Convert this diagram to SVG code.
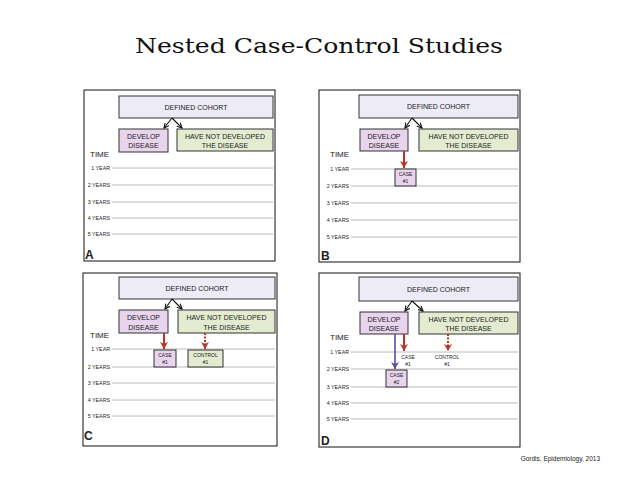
<svg xmlns="http://www.w3.org/2000/svg" width="638" height="479" viewBox="0 0 638 479">
<style>
.panel{fill:#fff;stroke:#111;stroke-width:1}
.coh{fill:#ecebf6;stroke:#333;stroke-width:1}
.dev{fill:#e8d4ec;stroke:#333;stroke-width:1}
.nd{fill:#e3ecd1;stroke:#333;stroke-width:1}
.t{font-family:"Liberation Sans",Arial,sans-serif;fill:#222}
.bx{font-size:7px;text-anchor:middle}
.time{font-size:8px}
.yr{font-size:5.3px;text-anchor:end}
.sm{font-size:5px;text-anchor:middle}
.let{font-size:12px;font-weight:bold}
.grid{stroke:#a8a8a8;stroke-width:0.8}
.blk{stroke:#111;stroke-width:1.1;fill:none}
.red{stroke:#b8352a;stroke-width:2;fill:none}
.redd{stroke:#b8352a;stroke-width:2;fill:none;stroke-dasharray:2 1.5}
.pur{stroke:#5a4aa0;stroke-width:1.6;fill:none}
</style>
<defs>
<marker id="mb" markerUnits="userSpaceOnUse" markerWidth="6" markerHeight="6" refX="5" refY="3" orient="auto"><path d="M0,0.5 L5,3 L0,5.5" fill="none" stroke="#111" stroke-width="1.1"/></marker>
<marker id="mr" markerUnits="userSpaceOnUse" markerWidth="8" markerHeight="8" refX="7" refY="4" orient="auto"><path d="M0,0 L7,4 L0,8 L2,4 z" fill="#b8352a"/></marker>
<marker id="mp" markerUnits="userSpaceOnUse" markerWidth="8" markerHeight="8" refX="7" refY="4" orient="auto"><path d="M0,0 L7,4 L0,8 L2,4 z" fill="#5a4aa0"/></marker>
</defs>
<rect width="638" height="479" fill="#fff"/>
<text x="319" y="53" text-anchor="middle" font-family="DejaVu Serif,'Liberation Serif',serif" font-size="21" fill="#111" textLength="368" lengthAdjust="spacingAndGlyphs">Nested Case-Control Studies</text>
<text x="600" y="461" text-anchor="end" class="t" font-size="6.5" fill="#555">Gordis, Epidemiology, 2013</text>

<!-- Panel A -->
<g id="panelA">
<rect class="panel" x="84" y="90" width="191" height="171"/>
<g id="A-years">
<line class="grid" x1="112" y1="168" x2="273" y2="168"/><text class="t yr" x="110" y="170">1 YEAR</text>
<line class="grid" x1="112" y1="185" x2="273" y2="185"/><text class="t yr" x="110" y="187">2 YEARS</text>
<line class="grid" x1="112" y1="202" x2="273" y2="202"/><text class="t yr" x="110" y="204">3 YEARS</text>
<line class="grid" x1="112" y1="218" x2="273" y2="218"/><text class="t yr" x="110" y="220">4 YEARS</text>
<line class="grid" x1="112" y1="234" x2="273" y2="234"/><text class="t yr" x="110" y="236">5 YEARS</text>
</g>
<text class="t time" x="90" y="157">TIME</text>
<text class="t let" x="85" y="259">A</text>
</g>
<g id="A-cohort"><rect class="coh" x="119" y="96" width="154" height="22"/><text class="t bx" x="196" y="109.5">DEFINED COHORT</text></g>
<g id="A-develop"><rect class="dev" x="119" y="129" width="49" height="23"/><text class="t bx" x="143.5" y="139">DEVELOP</text><text class="t bx" x="143.5" y="148">DISEASE</text></g>
<g id="A-notdev"><rect class="nd" x="177" y="129" width="96" height="22"/><text class="t bx" x="225" y="139">HAVE NOT DEVELOPED</text><text class="t bx" x="225" y="148">THE DISEASE</text></g>

<!-- Panel B -->
<g id="panelB">
<rect class="panel" x="319" y="90" width="201" height="172"/>
<g id="B-years">
<line class="grid" x1="351" y1="169" x2="518" y2="169"/><text class="t yr" x="349" y="171">1 YEAR</text>
<line class="grid" x1="351" y1="186" x2="518" y2="186"/><text class="t yr" x="349" y="188">2 YEARS</text>
<line class="grid" x1="351" y1="203" x2="518" y2="203"/><text class="t yr" x="349" y="205">3 YEARS</text>
<line class="grid" x1="351" y1="220" x2="518" y2="220"/><text class="t yr" x="349" y="222">4 YEARS</text>
<line class="grid" x1="351" y1="237" x2="518" y2="237"/><text class="t yr" x="349" y="239">5 YEARS</text>
</g>
<text class="t time" x="330" y="157">TIME</text>
<text class="t let" x="321" y="260">B</text>
</g>
<g id="B-cohort"><rect class="coh" x="359" y="95" width="159" height="23"/><text class="t bx" x="438.5" y="109">DEFINED COHORT</text></g>
<g id="B-develop"><rect class="dev" x="360" y="129" width="48" height="22"/><text class="t bx" x="384" y="139">DEVELOP</text><text class="t bx" x="384" y="148">DISEASE</text></g>
<g id="B-notdev"><rect class="nd" x="419" y="129" width="99" height="22"/><text class="t bx" x="468.5" y="139">HAVE NOT DEVELOPED</text><text class="t bx" x="468.5" y="148">THE DISEASE</text></g>
<g id="B-case1"><rect class="dev" x="395" y="169" width="21" height="17"/><text class="t sm" x="405.5" y="176">CASE</text><text class="t sm" x="405.5" y="183">#1</text></g>

<!-- Panel C -->
<g id="panelC">
<rect class="panel" x="83" y="273" width="194" height="173"/>
<g id="C-years">
<line class="grid" x1="112" y1="349" x2="275" y2="349"/><text class="t yr" x="110" y="351">1 YEAR</text>
<line class="grid" x1="112" y1="367" x2="275" y2="367"/><text class="t yr" x="110" y="369">2 YEARS</text>
<line class="grid" x1="112" y1="383" x2="275" y2="383"/><text class="t yr" x="110" y="385">3 YEARS</text>
<line class="grid" x1="112" y1="400" x2="275" y2="400"/><text class="t yr" x="110" y="402">4 YEARS</text>
<line class="grid" x1="112" y1="416" x2="275" y2="416"/><text class="t yr" x="110" y="418">5 YEARS</text>
</g>
<text class="t time" x="90" y="338">TIME</text>
<text class="t let" x="84" y="440">C</text>
</g>
<g id="C-cohort"><rect class="coh" x="119" y="277" width="156" height="22"/><text class="t bx" x="197" y="290.5">DEFINED COHORT</text></g>
<g id="C-develop"><rect class="dev" x="119" y="310" width="49" height="23"/><text class="t bx" x="143.5" y="320">DEVELOP</text><text class="t bx" x="143.5" y="329.5">DISEASE</text></g>
<g id="C-notdev"><rect class="nd" x="178" y="310" width="97" height="23"/><text class="t bx" x="226.5" y="320">HAVE NOT DEVELOPED</text><text class="t bx" x="226.5" y="329.5">THE DISEASE</text></g>
<g id="C-case1"><rect class="dev" x="154" y="350" width="22" height="17"/><text class="t sm" x="165" y="357">CASE</text><text class="t sm" x="165" y="364">#1</text></g>
<g id="C-control1"><rect class="nd" x="188" y="350" width="35" height="17"/><text class="t sm" x="205.5" y="357">CONTROL</text><text class="t sm" x="205.5" y="364">#1</text></g>

<!-- Panel D -->
<g id="panelD">
<rect class="panel" x="319" y="273" width="201" height="174"/>
<g id="D-years">
<line class="grid" x1="351" y1="352" x2="518" y2="352"/><text class="t yr" x="349" y="354">1 YEAR</text>
<line class="grid" x1="351" y1="369" x2="518" y2="369"/><text class="t yr" x="349" y="371">2 YEARS</text>
<line class="grid" x1="351" y1="387" x2="518" y2="387"/><text class="t yr" x="349" y="389">3 YEARS</text>
<line class="grid" x1="351" y1="403" x2="518" y2="403"/><text class="t yr" x="349" y="405">4 YEARS</text>
<line class="grid" x1="351" y1="419" x2="518" y2="419"/><text class="t yr" x="349" y="421">5 YEARS</text>
</g>
<text class="t time" x="330" y="340">TIME</text>
<text class="t let" x="321" y="445">D</text>
</g>
<g id="D-cohort"><rect class="coh" x="359" y="277" width="159" height="24"/><text class="t bx" x="438.5" y="291.5">DEFINED COHORT</text></g>
<g id="D-develop"><rect class="dev" x="360" y="312" width="48" height="22"/><text class="t bx" x="384" y="322">DEVELOP</text><text class="t bx" x="384" y="331">DISEASE</text></g>
<g id="D-notdev"><rect class="nd" x="419" y="312" width="99" height="22"/><text class="t bx" x="468.5" y="322">HAVE NOT DEVELOPED</text><text class="t bx" x="468.5" y="331">THE DISEASE</text></g>
<g id="D-case1"><text class="t sm" x="408" y="359">CASE</text><text class="t sm" x="408" y="366">#1</text></g>
<g id="D-control1"><text class="t sm" x="447" y="359">CONTROL</text><text class="t sm" x="447" y="366">#1</text></g>
<g id="D-case2"><rect class="dev" x="386" y="370" width="21" height="17"/><text class="t sm" x="396.5" y="377">CASE</text><text class="t sm" x="396.5" y="384">#2</text></g>

<g id="connectors">
<path class="blk" d="M172,118 L164,128" marker-end="url(#mb)"/>
<path class="blk" d="M172,118 L182,128" marker-end="url(#mb)"/>
<path class="blk" d="M412,118 L405,128" marker-end="url(#mb)"/>
<path class="blk" d="M412,118 L422,128" marker-end="url(#mb)"/>
<path class="red" d="M404,151 L404,168" marker-end="url(#mr)"/>
<path class="blk" d="M172,299 L165,309" marker-end="url(#mb)"/>
<path class="blk" d="M172,299 L182,309" marker-end="url(#mb)"/>
<path class="red" d="M164,333 L164,349" marker-end="url(#mr)"/>
<path class="redd" d="M205,333 L205,349" marker-end="url(#mr)"/>
<path class="blk" d="M412,301 L405,311" marker-end="url(#mb)"/>
<path class="blk" d="M412,301 L423,311" marker-end="url(#mb)"/>
<path class="red" d="M404,334 L404,351" marker-end="url(#mr)"/>
<path class="redd" d="M448,334 L448,351" marker-end="url(#mr)"/>
<path class="pur" d="M395,334 L395,369" marker-end="url(#mp)"/>
</g>
</svg>
